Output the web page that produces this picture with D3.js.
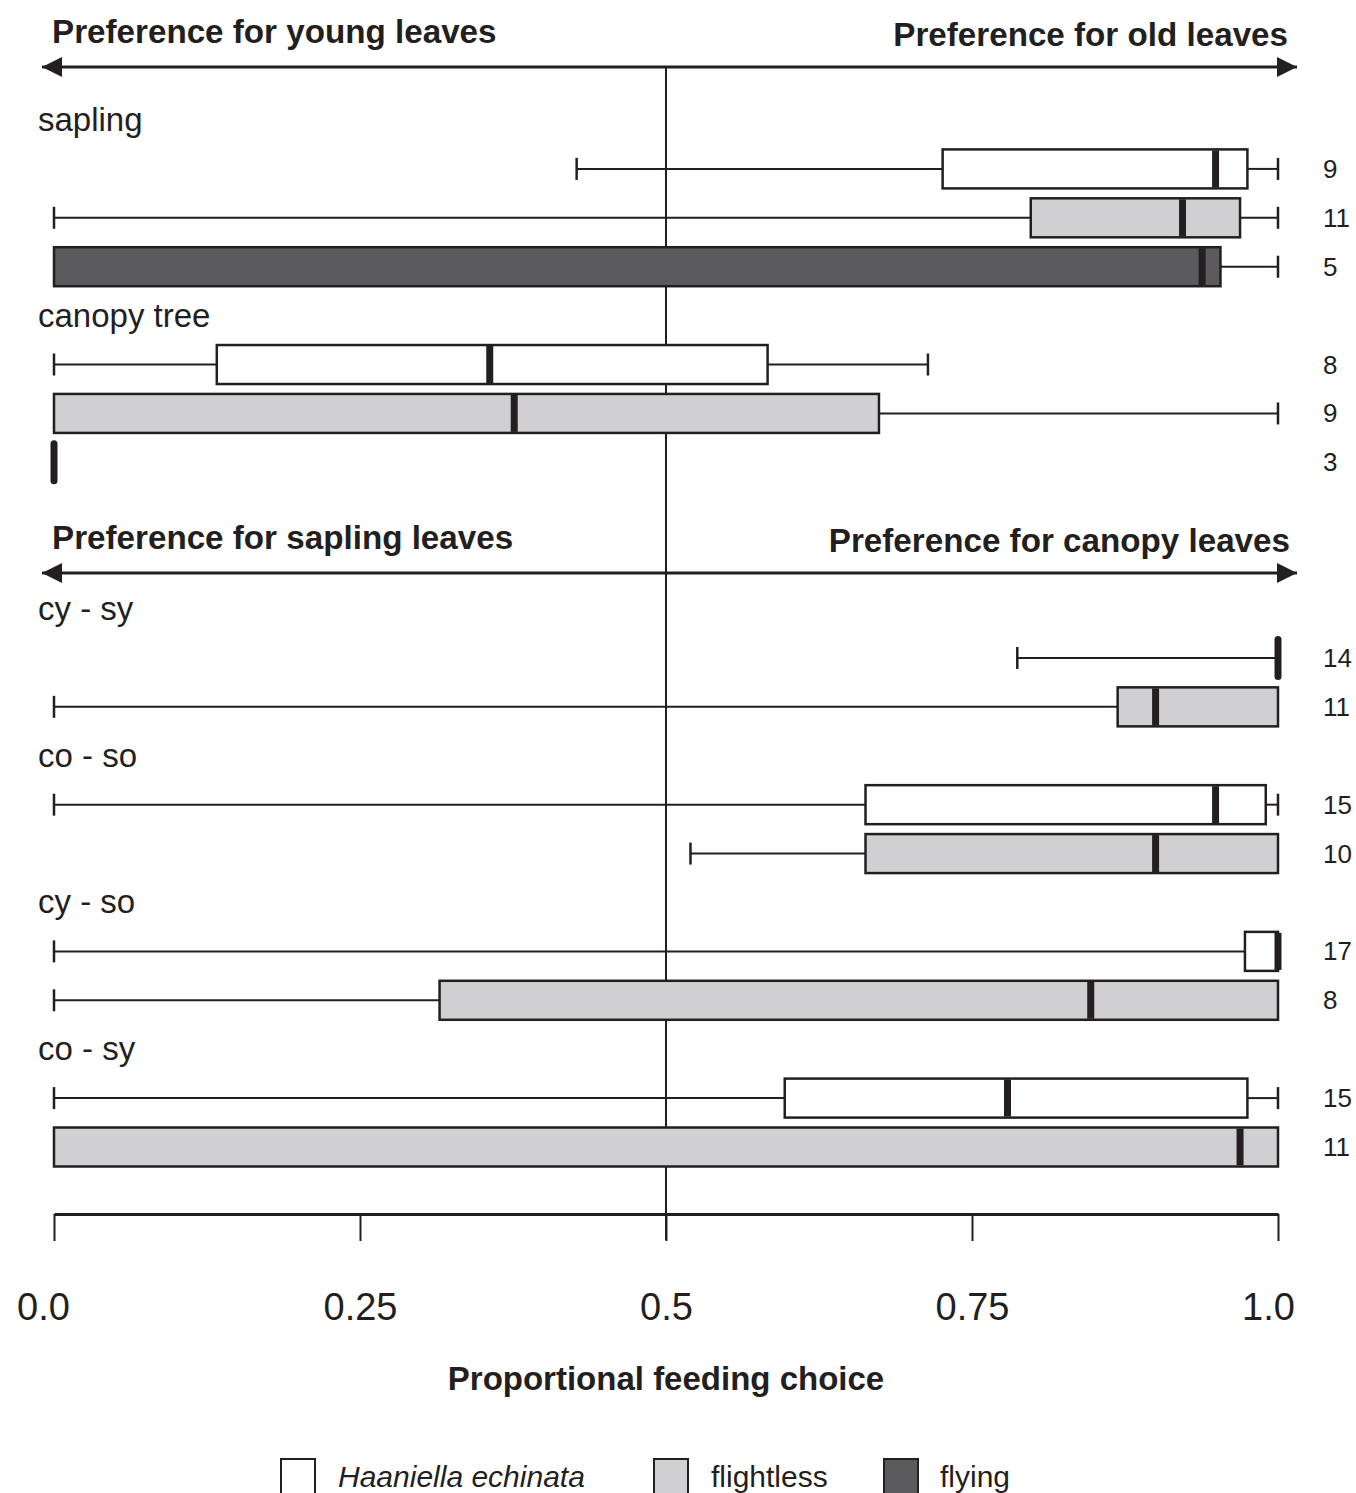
<!DOCTYPE html>
<html>
<head>
<meta charset="utf-8">
<script src="https://cdn.jsdelivr.net/npm/d3@7"></script>
<style>
  body { margin: 0; background: #fff; }
  svg text { font-family: "Liberation Sans", Arial, sans-serif; fill: #231f20; }
</style>
</head>
<body>
<div id="chart"></div>
<script>
// group labels and the slot they sit in
const groupLabels = ['sapling', 'canopy tree', 'cy - sy', 'co - so', 'cy - so', 'co - sy'];
const groupSlots = [0, 4, 10, 13, 16, 19];

// one entry per box row
const rowSlots = [1, 2, 3, 5, 6, 7, 11, 12, 14, 15, 17, 18, 20, 21];
const rowTypes = ['H', 'flightless', 'flying', 'H', 'flightless', 'flying',
  'H', 'flightless', 'H', 'flightless', 'H', 'flightless', 'H', 'flightless'];
const lows = [0.427, 0, 0, 0, 0, 0, 0.787, 0, 0, 0.520, 0, 0, 0, 0];
const q1s = [0.726, 0.798, 0, 0.133, 0, 0, 1.0, 0.869, 0.663, 0.663, 0.973, 0.315, 0.597, 0];
const medians = [0.949, 0.922, 0.938, 0.356, 0.376, 0, 1.0, 0.900, 0.949, 0.900, 1.0, 0.847, 0.779, 0.969];
const q3s = [0.975, 0.969, 0.953, 0.583, 0.674, 0, 1.0, 1.0, 0.990, 1.0, 1.0, 1.0, 0.975, 1.0];
const highs = [1.0, 1.0, 1.0, 0.714, 1.0, 0, 1.0, 1.0, 1.0, 1.0, 1.0, 1.0, 1.0, 1.0];
const ns = [9, 11, 5, 8, 9, 3, 14, 11, 15, 10, 17, 8, 15, 11];

const tickValues = [0, 0.25, 0.5, 0.75, 1];
const tickLabels = ['0.0', '0.25', '0.5', '0.75', '1.0'];

const legendKeys = ['H', 'flightless', 'flying'];
const legendNames = ['Haaniella echinata', 'flightless', 'flying'];

const width = 1356;
const height = 1493;
const ink = '#231f20';
const fills = {H: '#ffffff', flightless: '#d0d0d2', flying: '#5b5b5d'};
const boxH = 39;

const x = d3.scaleLinear().domain([0, 1]).range([54, 1278]);
const y = d3.scaleLinear().domain([0, 21]).range([120, 1147]);

const svg = d3.select('#chart')
  .append('svg')
  .attr('width', width)
  .attr('height', height);

svg.append('defs')
  .append('marker')
  .attr('id', 'arrow')
  .attr('viewBox', '0 0 10 10')
  .attr('refX', 10)
  .attr('refY', 5)
  .attr('markerUnits', 'userSpaceOnUse')
  .attr('markerWidth', 20)
  .attr('markerHeight', 22)
  .attr('orient', 'auto-start-reverse')
  .append('path')
  .attr('d', 'M0,0 L10,5 L0,10 Z')
  .attr('fill', ink);

// preference arrows + headers
const arrowYs = [67, 573];
const headLeft = ['Preference for young leaves', 'Preference for sapling leaves'];
const headRight = ['Preference for old leaves', 'Preference for canopy leaves'];

arrowYs.forEach((ay, i) => {
  svg.append('line')
    .attr('x1', 42).attr('x2', 1297)
    .attr('y1', ay).attr('y2', ay)
    .attr('stroke', ink)
    .attr('stroke-width', 3)
    .attr('marker-start', 'url(#arrow)')
    .attr('marker-end', 'url(#arrow)');
  svg.append('text')
    .attr('x', 52).attr('y', ay - 24)
    .attr('font-size', 33.2).attr('font-weight', 'bold')
    .text(headLeft[i]);
  svg.append('text')
    .attr('x', 1288 + i * 2).attr('y', ay - 21)
    .attr('text-anchor', 'end')
    .attr('font-size', 33.2).attr('font-weight', 'bold')
    .text(headRight[i]);
});

// 0.5 reference line
svg.append('line')
  .attr('x1', x(0.5)).attr('x2', x(0.5))
  .attr('y1', arrowYs[0]).attr('y2', 1240)
  .attr('stroke', ink)
  .attr('stroke-width', 2);

// group labels
svg.selectAll('.group')
  .data(groupLabels)
  .enter()
  .append('text')
  .attr('class', 'group')
  .attr('x', 38)
  .attr('y', (d, i) => y(groupSlots[i]) + 11)
  .attr('font-size', 33)
  .text(d => d);

const rows = rowSlots.map((s, i) => ({
  slot: s, type: rowTypes[i], lo: lows[i], q1: q1s[i], med: medians[i],
  q3: q3s[i], hi: highs[i], n: ns[i]
}));

const row = svg.selectAll('.row')
  .data(rows)
  .enter()
  .append('g')
  .attr('class', 'row')
  .attr('transform', d => 'translate(0,' + y(d.slot) + ')');

// whiskers
row.filter(d => d.lo < d.q1)
  .append('line')
  .attr('x1', d => x(d.lo)).attr('x2', d => x(d.q1))
  .attr('stroke', ink).attr('stroke-width', 2);
row.filter(d => d.hi > d.q3)
  .append('line')
  .attr('x1', d => x(d.q3)).attr('x2', d => x(d.hi))
  .attr('stroke', ink).attr('stroke-width', 2);
row.filter(d => d.lo < d.q1)
  .append('line')
  .attr('x1', d => x(d.lo)).attr('x2', d => x(d.lo))
  .attr('y1', -11).attr('y2', 11)
  .attr('stroke', ink).attr('stroke-width', 2.5);
row.filter(d => d.hi > d.q3)
  .append('line')
  .attr('x1', d => x(d.hi)).attr('x2', d => x(d.hi))
  .attr('y1', -11).attr('y2', 11)
  .attr('stroke', ink).attr('stroke-width', 2.5);

// boxes
row.filter(d => d.q3 > d.q1)
  .append('rect')
  .attr('x', d => x(d.q1))
  .attr('y', -boxH / 2)
  .attr('width', d => x(d.q3) - x(d.q1))
  .attr('height', boxH)
  .attr('fill', d => fills[d.type])
  .attr('stroke', ink)
  .attr('stroke-width', 2.5);

// medians
row.append('line')
  .attr('x1', d => x(d.med)).attr('x2', d => x(d.med))
  .attr('y1', -boxH / 2 + 1).attr('y2', boxH / 2 - 1)
  .attr('stroke', ink)
  .attr('stroke-width', 7)
  .attr('stroke-linecap', d => d.q3 > d.q1 ? 'butt' : 'round');

// sample sizes
row.append('text')
  .attr('x', 1323)
  .attr('y', 9)
  .attr('font-size', 26)
  .text(d => d.n);

// axis
const axis = d3.axisBottom(x)
  .tickValues(tickValues)
  .tickFormat((d, i) => tickLabels[i])
  .tickSize(27)
  .tickSizeOuter(0)
  .tickPadding(52);

const gx = svg.append('g')
  .attr('transform', 'translate(0,1214)')
  .call(axis);
gx.select('.domain').attr('stroke', ink).attr('stroke-width', 3);
gx.selectAll('.tick line').attr('stroke', ink).attr('stroke-width', 2);
gx.selectAll('.tick text')
  .attr('font-size', 38)
  .attr('font-family', '"Liberation Sans", Arial, sans-serif')
  .attr('fill', ink)
  .attr('dx', (d, i) => i === 0 ? -11 : (i === tickValues.length - 1 ? -10 : 0));

svg.append('text')
  .attr('x', x(0.5))
  .attr('y', 1390)
  .attr('text-anchor', 'middle')
  .attr('font-size', 33)
  .attr('font-weight', 'bold')
  .text('Proportional feeding choice');

// legend
const legendXs = [281, 654, 884];
const legend = svg.selectAll('.legend')
  .data(legendKeys)
  .enter()
  .append('g')
  .attr('class', 'legend')
  .attr('transform', (d, i) => 'translate(' + legendXs[i] + ',1459)');
legend.append('rect')
  .attr('width', 34).attr('height', 36)
  .attr('fill', d => fills[d])
  .attr('stroke', ink)
  .attr('stroke-width', 2);
legend.append('text')
  .attr('x', (d, i) => i === 2 ? 56 : 57)
  .attr('y', 28)
  .attr('font-size', 30)
  .attr('font-style', (d, i) => i === 0 ? 'italic' : 'normal')
  .text((d, i) => legendNames[i]);
</script>
</body>
</html>
